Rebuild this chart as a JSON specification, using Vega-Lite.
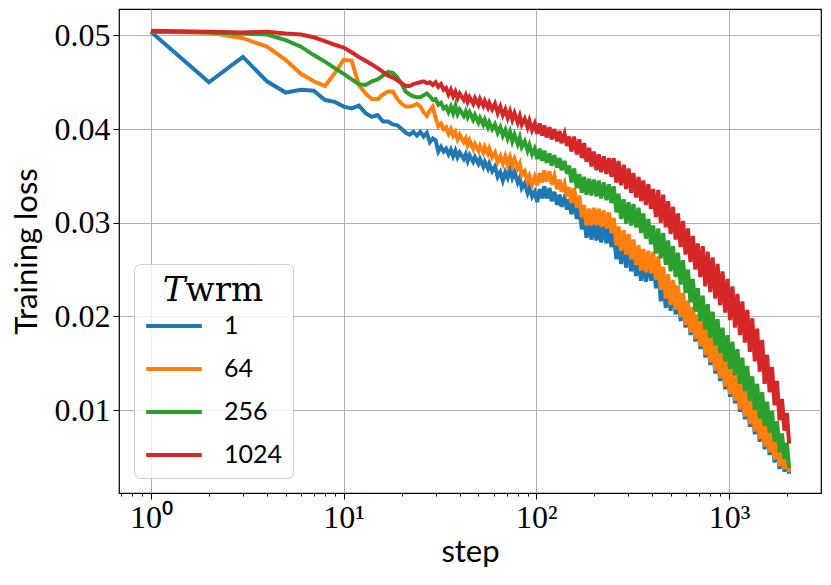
{
  "$schema": "https://vega.github.io/schema/vega-lite/v6.json",
  "width": 702,
  "height": 484,
  "autosize": {"type": "none"},
  "padding": {"left": 119, "top": 9, "right": 10, "bottom": 92},
  "background": "white",
  "datasets": {
    "loss": [
      {"step": 1, "1": 0.0504, "64": 0.0504, "256": 0.0504, "1024": 0.0505},
      {"step": 2, "1": 0.0450, "64": 0.0503, "256": 0.0503, "1024": 0.0504},
      {"step": 3, "1": 0.0477, "64": 0.0497, "256": 0.0502, "1024": 0.0503},
      {"step": 4, "1": 0.0451, "64": 0.0488, "256": 0.0501, "1024": 0.0504},
      {"step": 5, "1": 0.0439, "64": 0.0474, "256": 0.0495, "1024": 0.0502},
      {"step": 6, "1": 0.0442, "64": 0.0459, "256": 0.0488, "1024": 0.0501},
      {"step": 7, "1": 0.0441, "64": 0.0451, "256": 0.0479, "1024": 0.0498},
      {"step": 8, "1": 0.0431, "64": 0.0446, "256": 0.0472, "1024": 0.0494},
      {"step": 9, "1": 0.0429, "64": 0.0460, "256": 0.0465, "1024": 0.0490},
      {"step": 10, "1": 0.0424, "64": 0.0474, "256": 0.0459, "1024": 0.0487},
      {"step": 11, "1": 0.0422, "64": 0.0473, "256": 0.0453, "1024": 0.0482},
      {"step": 12, "1": 0.0425, "64": 0.0447, "256": 0.0448, "1024": 0.0477},
      {"step": 13, "1": 0.0417, "64": 0.0438, "256": 0.0447, "1024": 0.0473},
      {"step": 14, "1": 0.0413, "64": 0.0432, "256": 0.0451, "1024": 0.0469},
      {"step": 15, "1": 0.0415, "64": 0.0432, "256": 0.0453, "1024": 0.0465},
      {"step": 16, "1": 0.0408, "64": 0.0437, "256": 0.0457, "1024": 0.0461},
      {"step": 17, "1": 0.0408, "64": 0.0440, "256": 0.0461, "1024": 0.0457},
      {"step": 18, "1": 0.0405, "64": 0.0440, "256": 0.0460, "1024": 0.0455},
      {"step": 19, "1": 0.0404, "64": 0.0432, "256": 0.0455, "1024": 0.0452},
      {"step": 20, "1": 0.0400, "64": 0.0427, "256": 0.0448, "1024": 0.0449},
      {"step": 21, "1": 0.0396, "64": 0.0424, "256": 0.0440, "1024": 0.0446},
      {"step": 22, "1": 0.0394, "64": 0.0424, "256": 0.0437, "1024": 0.0446},
      {"step": 23, "1": 0.0397, "64": 0.0425, "256": 0.0435, "1024": 0.0448},
      {"step": 24, "1": 0.0393, "64": 0.0427, "256": 0.0434, "1024": 0.0449},
      {"step": 25, "1": 0.0397, "64": 0.0424, "256": 0.0434, "1024": 0.0450},
      {"step": 26, "1": 0.0392, "64": 0.0418, "256": 0.0436, "1024": 0.0451},
      {"step": 27, "1": 0.0396, "64": 0.0414, "256": 0.0438, "1024": 0.0449},
      {"step": 28, "1": 0.0386, "64": 0.0420, "256": 0.0435, "1024": 0.0450},
      {"step": 29, "1": 0.0390, "64": 0.0424, "256": 0.0431, "1024": 0.0447},
      {"step": 30, "1": 0.0388, "64": 0.0412, "256": 0.0432, "1024": 0.0450},
      {"step": 31, "1": 0.0376, "64": 0.0403, "256": 0.0426, "1024": 0.0445},
      {"step": 32, "1": 0.0381, "64": 0.0406, "256": 0.0428, "1024": 0.0448},
      {"step": 33, "1": 0.0376, "64": 0.0400, "256": 0.0422, "1024": 0.0442},
      {"step": 34, "1": 0.0379, "64": 0.0402, "256": 0.0424, "1024": 0.0444},
      {"step": 35, "1": 0.0373, "64": 0.0395, "256": 0.0418, "1024": 0.0437},
      {"step": 36, "1": 0.0378, "64": 0.0400, "256": 0.0424, "1024": 0.0442},
      {"step": 37, "1": 0.0371, "64": 0.0393, "256": 0.0417, "1024": 0.0435},
      {"step": 38, "1": 0.0377, "64": 0.0397, "256": 0.0425, "1024": 0.0440},
      {"step": 39, "1": 0.0370, "64": 0.0389, "256": 0.0416, "1024": 0.0433},
      {"step": 40, "1": 0.0375, "64": 0.0394, "256": 0.0421, "1024": 0.0438},
      {"step": 42, "1": 0.0368, "64": 0.0386, "256": 0.0414, "1024": 0.0431},
      {"step": 43, "1": 0.0373, "64": 0.0390, "256": 0.0419, "1024": 0.0436},
      {"step": 44, "1": 0.0366, "64": 0.0383, "256": 0.0413, "1024": 0.0429},
      {"step": 45, "1": 0.0372, "64": 0.0388, "256": 0.0418, "1024": 0.0434},
      {"step": 47, "1": 0.0365, "64": 0.0379, "256": 0.0410, "1024": 0.0427},
      {"step": 48, "1": 0.0370, "64": 0.0384, "256": 0.0415, "1024": 0.0433},
      {"step": 50, "1": 0.0363, "64": 0.0377, "256": 0.0407, "1024": 0.0426},
      {"step": 51, "1": 0.0368, "64": 0.0382, "256": 0.0412, "1024": 0.0432},
      {"step": 53, "1": 0.0360, "64": 0.0375, "256": 0.0405, "1024": 0.0425},
      {"step": 54, "1": 0.0365, "64": 0.0381, "256": 0.0410, "1024": 0.0430},
      {"step": 56, "1": 0.0358, "64": 0.0374, "256": 0.0402, "1024": 0.0423},
      {"step": 57, "1": 0.0363, "64": 0.0379, "256": 0.0407, "1024": 0.0428},
      {"step": 59, "1": 0.0355, "64": 0.0370, "256": 0.0400, "1024": 0.0421},
      {"step": 61, "1": 0.0360, "64": 0.0375, "256": 0.0405, "1024": 0.0427},
      {"step": 63, "1": 0.0349, "64": 0.0365, "256": 0.0396, "1024": 0.0417},
      {"step": 65, "1": 0.0354, "64": 0.0371, "256": 0.0402, "1024": 0.0424},
      {"step": 67, "1": 0.0345, "64": 0.0363, "256": 0.0393, "1024": 0.0415},
      {"step": 69, "1": 0.0354, "64": 0.0371, "256": 0.0399, "1024": 0.0421},
      {"step": 71, "1": 0.0348, "64": 0.0362, "256": 0.0390, "1024": 0.0412},
      {"step": 73, "1": 0.0357, "64": 0.0370, "256": 0.0397, "1024": 0.0419},
      {"step": 75, "1": 0.0348, "64": 0.0361, "256": 0.0387, "1024": 0.0410},
      {"step": 77, "1": 0.0354, "64": 0.0368, "256": 0.0394, "1024": 0.0417},
      {"step": 80, "1": 0.0343, "64": 0.0358, "256": 0.0384, "1024": 0.0407},
      {"step": 82, "1": 0.0348, "64": 0.0363, "256": 0.0391, "1024": 0.0414},
      {"step": 84, "1": 0.0337, "64": 0.0351, "256": 0.0381, "1024": 0.0405},
      {"step": 87, "1": 0.0342, "64": 0.0355, "256": 0.0387, "1024": 0.0411},
      {"step": 90, "1": 0.0332, "64": 0.0344, "256": 0.0377, "1024": 0.0402},
      {"step": 92, "1": 0.0338, "64": 0.0350, "256": 0.0383, "1024": 0.0409},
      {"step": 95, "1": 0.0328, "64": 0.0341, "256": 0.0373, "1024": 0.0399},
      {"step": 98, "1": 0.0333, "64": 0.0349, "256": 0.0379, "1024": 0.0406},
      {"step": 101, "1": 0.0322, "64": 0.0340, "256": 0.0368, "1024": 0.0395},
      {"step": 104, "1": 0.0336, "64": 0.0353, "256": 0.0379, "1024": 0.0406},
      {"step": 107, "1": 0.0326, "64": 0.0343, "256": 0.0366, "1024": 0.0393},
      {"step": 110, "1": 0.0339, "64": 0.0356, "256": 0.0377, "1024": 0.0404},
      {"step": 113, "1": 0.0326, "64": 0.0344, "256": 0.0364, "1024": 0.0391},
      {"step": 117, "1": 0.0337, "64": 0.0355, "256": 0.0374, "1024": 0.0402},
      {"step": 120, "1": 0.0323, "64": 0.0341, "256": 0.0361, "1024": 0.0389},
      {"step": 124, "1": 0.0333, "64": 0.0350, "256": 0.0372, "1024": 0.0400},
      {"step": 128, "1": 0.0319, "64": 0.0336, "256": 0.0359, "1024": 0.0387},
      {"step": 132, "1": 0.0330, "64": 0.0346, "256": 0.0369, "1024": 0.0398},
      {"step": 135, "1": 0.0317, "64": 0.0333, "256": 0.0356, "1024": 0.0385},
      {"step": 140, "1": 0.0327, "64": 0.0342, "256": 0.0366, "1024": 0.0395},
      {"step": 144, "1": 0.0314, "64": 0.0328, "256": 0.0352, "1024": 0.0382},
      {"step": 148, "1": 0.0325, "64": 0.0338, "256": 0.0361, "1024": 0.0392},
      {"step": 152, "1": 0.0309, "64": 0.0321, "256": 0.0343, "1024": 0.0376},
      {"step": 157, "1": 0.0325, "64": 0.0337, "256": 0.0358, "1024": 0.0392},
      {"step": 162, "1": 0.0304, "64": 0.0316, "256": 0.0337, "1024": 0.0373},
      {"step": 167, "1": 0.0317, "64": 0.0329, "256": 0.0352, "1024": 0.0389},
      {"step": 172, "1": 0.0293, "64": 0.0306, "256": 0.0332, "1024": 0.0369},
      {"step": 177, "1": 0.0306, "64": 0.0319, "256": 0.0349, "1024": 0.0385},
      {"step": 182, "1": 0.0284, "64": 0.0297, "256": 0.0330, "1024": 0.0365},
      {"step": 188, "1": 0.0300, "64": 0.0315, "256": 0.0347, "1024": 0.0380},
      {"step": 193, "1": 0.0282, "64": 0.0297, "256": 0.0329, "1024": 0.0360},
      {"step": 199, "1": 0.0299, "64": 0.0316, "256": 0.0346, "1024": 0.0376},
      {"step": 205, "1": 0.0281, "64": 0.0298, "256": 0.0328, "1024": 0.0356},
      {"step": 211, "1": 0.0298, "64": 0.0315, "256": 0.0345, "1024": 0.0373},
      {"step": 217, "1": 0.0279, "64": 0.0296, "256": 0.0326, "1024": 0.0354},
      {"step": 224, "1": 0.0297, "64": 0.0313, "256": 0.0343, "1024": 0.0371},
      {"step": 231, "1": 0.0278, "64": 0.0294, "256": 0.0324, "1024": 0.0352},
      {"step": 238, "1": 0.0295, "64": 0.0311, "256": 0.0341, "1024": 0.0369},
      {"step": 245, "1": 0.0274, "64": 0.0289, "256": 0.0321, "1024": 0.0349},
      {"step": 252, "1": 0.0290, "64": 0.0305, "256": 0.0339, "1024": 0.0369},
      {"step": 260, "1": 0.0261, "64": 0.0276, "256": 0.0311, "1024": 0.0343},
      {"step": 267, "1": 0.0282, "64": 0.0296, "256": 0.0331, "1024": 0.0366},
      {"step": 275, "1": 0.0256, "64": 0.0270, "256": 0.0304, "1024": 0.0340},
      {"step": 284, "1": 0.0278, "64": 0.0292, "256": 0.0325, "1024": 0.0362},
      {"step": 292, "1": 0.0252, "64": 0.0266, "256": 0.0299, "1024": 0.0336},
      {"step": 301, "1": 0.0274, "64": 0.0288, "256": 0.0322, "1024": 0.0358},
      {"step": 310, "1": 0.0248, "64": 0.0261, "256": 0.0297, "1024": 0.0332},
      {"step": 319, "1": 0.0270, "64": 0.0282, "256": 0.0320, "1024": 0.0353},
      {"step": 329, "1": 0.0243, "64": 0.0255, "256": 0.0295, "1024": 0.0327},
      {"step": 339, "1": 0.0264, "64": 0.0276, "256": 0.0316, "1024": 0.0349},
      {"step": 349, "1": 0.0238, "64": 0.0249, "256": 0.0289, "1024": 0.0323},
      {"step": 359, "1": 0.0261, "64": 0.0272, "256": 0.0310, "1024": 0.0345},
      {"step": 370, "1": 0.0237, "64": 0.0247, "256": 0.0283, "1024": 0.0319},
      {"step": 381, "1": 0.0262, "64": 0.0270, "256": 0.0304, "1024": 0.0341},
      {"step": 393, "1": 0.0238, "64": 0.0246, "256": 0.0277, "1024": 0.0315},
      {"step": 404, "1": 0.0261, "64": 0.0269, "256": 0.0297, "1024": 0.0336},
      {"step": 417, "1": 0.0230, "64": 0.0239, "256": 0.0267, "1024": 0.0306},
      {"step": 429, "1": 0.0253, "64": 0.0264, "256": 0.0294, "1024": 0.0335},
      {"step": 442, "1": 0.0216, "64": 0.0228, "256": 0.0262, "1024": 0.0300},
      {"step": 455, "1": 0.0241, "64": 0.0253, "256": 0.0289, "1024": 0.0330},
      {"step": 469, "1": 0.0209, "64": 0.0219, "256": 0.0255, "1024": 0.0295},
      {"step": 483, "1": 0.0237, "64": 0.0245, "256": 0.0281, "1024": 0.0323},
      {"step": 497, "1": 0.0206, "64": 0.0212, "256": 0.0248, "1024": 0.0288},
      {"step": 512, "1": 0.0234, "64": 0.0239, "256": 0.0275, "1024": 0.0317},
      {"step": 528, "1": 0.0202, "64": 0.0207, "256": 0.0242, "1024": 0.0282},
      {"step": 543, "1": 0.0229, "64": 0.0233, "256": 0.0268, "1024": 0.0310},
      {"step": 560, "1": 0.0195, "64": 0.0199, "256": 0.0234, "1024": 0.0274},
      {"step": 577, "1": 0.0222, "64": 0.0225, "256": 0.0260, "1024": 0.0302},
      {"step": 594, "1": 0.0188, "64": 0.0191, "256": 0.0225, "1024": 0.0266},
      {"step": 612, "1": 0.0214, "64": 0.0217, "256": 0.0250, "1024": 0.0294},
      {"step": 630, "1": 0.0180, "64": 0.0183, "256": 0.0215, "1024": 0.0258},
      {"step": 649, "1": 0.0207, "64": 0.0210, "256": 0.0240, "1024": 0.0286},
      {"step": 668, "1": 0.0173, "64": 0.0176, "256": 0.0205, "1024": 0.0250},
      {"step": 688, "1": 0.0199, "64": 0.0202, "256": 0.0230, "1024": 0.0278},
      {"step": 709, "1": 0.0165, "64": 0.0168, "256": 0.0195, "1024": 0.0242},
      {"step": 730, "1": 0.0192, "64": 0.0195, "256": 0.0222, "1024": 0.0275},
      {"step": 752, "1": 0.0156, "64": 0.0159, "256": 0.0186, "1024": 0.0232},
      {"step": 775, "1": 0.0184, "64": 0.0187, "256": 0.0213, "1024": 0.0269},
      {"step": 798, "1": 0.0148, "64": 0.0151, "256": 0.0177, "1024": 0.0226},
      {"step": 822, "1": 0.0175, "64": 0.0178, "256": 0.0205, "1024": 0.0263},
      {"step": 847, "1": 0.0139, "64": 0.0142, "256": 0.0169, "1024": 0.0219},
      {"step": 872, "1": 0.0167, "64": 0.0170, "256": 0.0197, "1024": 0.0256},
      {"step": 898, "1": 0.0131, "64": 0.0134, "256": 0.0161, "1024": 0.0212},
      {"step": 925, "1": 0.0159, "64": 0.0162, "256": 0.0188, "1024": 0.0248},
      {"step": 953, "1": 0.0122, "64": 0.0125, "256": 0.0152, "1024": 0.0204},
      {"step": 982, "1": 0.0150, "64": 0.0153, "256": 0.0180, "1024": 0.0240},
      {"step": 1011, "1": 0.0114, "64": 0.0117, "256": 0.0144, "1024": 0.0196},
      {"step": 1041, "1": 0.0143, "64": 0.0146, "256": 0.0173, "1024": 0.0232},
      {"step": 1072, "1": 0.0107, "64": 0.0110, "256": 0.0137, "1024": 0.0188},
      {"step": 1105, "1": 0.0134, "64": 0.0137, "256": 0.0165, "1024": 0.0224},
      {"step": 1138, "1": 0.0098, "64": 0.0101, "256": 0.0128, "1024": 0.0180},
      {"step": 1172, "1": 0.0126, "64": 0.0129, "256": 0.0156, "1024": 0.0216},
      {"step": 1207, "1": 0.0090, "64": 0.0093, "256": 0.0120, "1024": 0.0172},
      {"step": 1243, "1": 0.0118, "64": 0.0121, "256": 0.0147, "1024": 0.0207},
      {"step": 1281, "1": 0.0082, "64": 0.0085, "256": 0.0110, "1024": 0.0162},
      {"step": 1319, "1": 0.0110, "64": 0.0113, "256": 0.0136, "1024": 0.0198},
      {"step": 1359, "1": 0.0074, "64": 0.0077, "256": 0.0100, "1024": 0.0152},
      {"step": 1399, "1": 0.0102, "64": 0.0105, "256": 0.0128, "1024": 0.0187},
      {"step": 1441, "1": 0.0066, "64": 0.0069, "256": 0.0091, "1024": 0.0141},
      {"step": 1485, "1": 0.0094, "64": 0.0097, "256": 0.0119, "1024": 0.0175},
      {"step": 1529, "1": 0.0058, "64": 0.0061, "256": 0.0083, "1024": 0.0128},
      {"step": 1575, "1": 0.0084, "64": 0.0087, "256": 0.0109, "1024": 0.0159},
      {"step": 1622, "1": 0.0052, "64": 0.0055, "256": 0.0076, "1024": 0.0119},
      {"step": 1671, "1": 0.0076, "64": 0.0079, "256": 0.0099, "1024": 0.0146},
      {"step": 1721, "1": 0.0044, "64": 0.0047, "256": 0.0066, "1024": 0.0105},
      {"step": 1773, "1": 0.0069, "64": 0.0072, "256": 0.0088, "1024": 0.0131},
      {"step": 1826, "1": 0.0037, "64": 0.0040, "256": 0.0055, "1024": 0.0089},
      {"step": 1881, "1": 0.0059, "64": 0.0062, "256": 0.0075, "1024": 0.0112},
      {"step": 1937, "1": 0.0034, "64": 0.0037, "256": 0.0048, "1024": 0.0078},
      {"step": 1995, "1": 0.0054, "64": 0.0057, "256": 0.0065, "1024": 0.0097},
      {"step": 2048, "1": 0.0032, "64": 0.0034, "256": 0.0038, "1024": 0.0064}
    ]
  },
  "data": {"name": "loss"},
  "transform": [
    {"fold": ["1", "64", "256", "1024"], "as": ["T", "loss"]}
  ],
  "mark": {"type": "line", "strokeWidth": 4, "clip": true},
  "encoding": {
    "x": {
      "field": "step",
      "type": "quantitative",
      "title": "step",
      "scale": {"type": "log", "domain": [0.683, 2998], "nice": false},
      "axis": {
        "values": [0.7, 0.8, 0.9, 1, 2, 3, 4, 5, 6, 7, 8, 9, 10, 20, 30, 40, 50, 60, 70, 80, 90, 100, 200, 300, 400, 500, 600, 700, 800, 900, 1000, 2000],
        "labelExpr": "datum.value == 1 ? '10⁰' : datum.value == 10 ? '10¹' : datum.value == 100 ? '10²' : datum.value == 1000 ? '10³' : ''",
        "tickSize": {"condition": {"test": "indexof([1, 10, 100, 1000], datum.value) >= 0", "value": 6}, "value": 3},
        "gridOpacity": {"condition": {"test": "indexof([1, 10, 100, 1000], datum.value) >= 0", "value": 1}, "value": 0},
        "labelOverlap": false,
        "labelFlush": false,
        "labelFont": "Liberation Serif",
        "labelFontSize": 32,
        "labelPadding": 3,
        "titlePadding": 4
      }
    },
    "y": {
      "field": "loss",
      "type": "quantitative",
      "title": "Training loss",
      "scale": {"domain": [0.00114, 0.05282], "nice": false, "zero": false},
      "axis": {
        "values": [0.01, 0.02, 0.03, 0.04, 0.05],
        "format": ".2f",
        "tickSize": 6,
        "labelFont": "Liberation Serif",
        "labelFontSize": 32,
        "labelPadding": 3,
        "titlePadding": 11
      }
    },
    "color": {
      "field": "T",
      "type": "nominal",
      "sort": ["1", "64", "256", "1024"],
      "scale": {"domain": ["1", "64", "256", "1024"], "range": ["#1f77b4", "#ff7f0e", "#2ca02c", "#d62728"]},
      "legend": {
        "title": "𝑇wrm",
        "orient": "bottom-left",
        "offset": 15,
        "titleFont": "DejaVu Serif",
        "titleFontSize": 34,
        "titleFontWeight": "normal",
        "titleColor": "black",
        "titleAnchor": "middle",
        "titleAlign": "center",
        "titlePadding": -12,
        "labelFont": "Lato",
        "labelFontSize": 25,
        "labelColor": "black",
        "labelOffset": 20,
        "symbolType": "stroke",
        "symbolSize": 3100,
        "symbolStrokeWidth": 4,
        "rowPadding": 0,
        "padding": 10,
        "fillColor": "rgba(255,255,255,0.8)",
        "strokeColor": "#cccccc",
        "cornerRadius": 6
      }
    }
  },
  "config": {
    "view": {"stroke": "black", "strokeWidth": 1.2},
    "axis": {
      "domain": false,
      "grid": true,
      "gridColor": "#b0b0b0",
      "gridWidth": 1,
      "tickColor": "black",
      "tickWidth": 1,
      "labelColor": "black",
      "titleColor": "black",
      "titleFont": "Lato",
      "titleFontSize": 31,
      "titleFontWeight": "normal"
    }
  }
}
